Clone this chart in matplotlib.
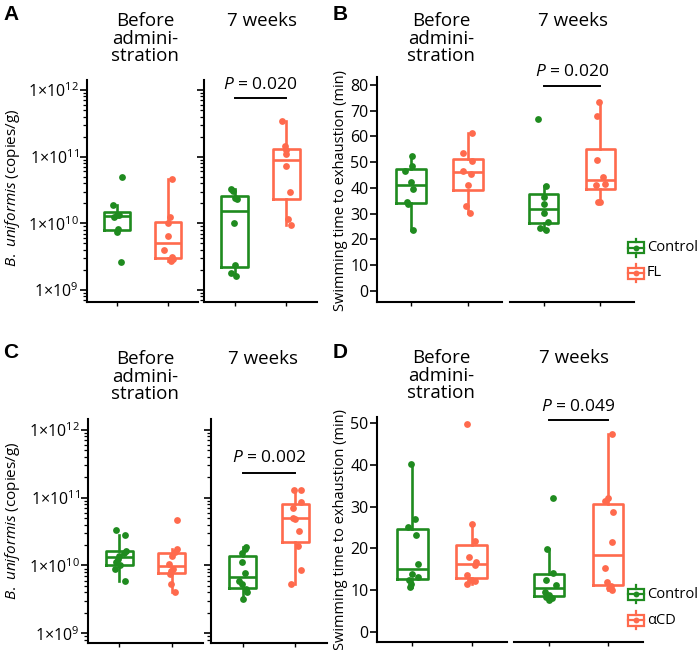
import matplotlib
matplotlib.use("Agg")
import matplotlib.pyplot as plt
import numpy as np
from matplotlib import cbook
from matplotlib.patches import Rectangle
from matplotlib.ticker import (FixedLocator, LogLocator, FuncFormatter,
                               NullFormatter, MultipleLocator)

plt.rcParams['font.family'] = ['Open Sans', 'DejaVu Sans']
plt.rcParams['mathtext.fontset'] = 'custom'
plt.rcParams['mathtext.rm'] = 'Open Sans'
plt.rcParams['mathtext.it'] = 'Open Sans:italic'
plt.rcParams['mathtext.bf'] = 'Open Sans:bold'

GREEN = '#1f8b1f'
ORANGE = '#ff6a4d'

# ---- data ----
# A: B. uniformis copies/g, Control vs FL
a_before_ctrl = [5.0e10, 1.86e10, 1.35e10, 1.32e10, 1.26e10, 8.3e9, 7.4e9, 2.6e9]
a_before_fl = [4.7e10, 1.26e10, 1.0e10, 6.5e9, 4.0e9, 3.1e9, 2.9e9, 2.7e9]
a_7w_ctrl = [3.28e10, 3.03e10, 2.42e10, 2.33e10, 1.0e10, 2.4e9, 1.83e9, 1.63e9]
a_7w_fl = [3.47e11, 1.44e11, 1.26e11, 1.08e11, 7.3e10, 2.95e10, 1.17e10, 9.4e9]

# B: swimming time (min), Control vs FL
b_before_ctrl = [52.4, 48.7, 46.7, 42.5, 39.6, 34.4, 33.8, 23.7]
b_before_fl = [61.5, 53.7, 50.6, 46.7, 45.4, 41.2, 33.0, 30.2]
b_7w_ctrl = [66.8, 40.9, 36.6, 33.8, 30.2, 26.9, 24.6, 23.7]
b_7w_fl = [73.5, 68.0, 50.9, 44.4, 41.6, 41.2, 34.7, 34.5]

# C: B. uniformis copies/g, Control vs aCD
c_before_ctrl = [3.29e10, 2.77e10, 1.66e10, 1.51e10, 1.38e10, 1.26e10, 1.12e10, 1.0e10, 8.9e9, 5.9e9]
c_before_cd = [4.73e10, 1.76e10, 1.57e10, 1.36e10, 1.05e10, 8.9e9, 8.4e9, 7.4e9, 5.25e9, 4.04e9]
c_7w_ctrl = [1.9e10, 1.76e10, 1.51e10, 1.12e10, 7.7e9, 6.0e9, 5.4e9, 4.5e9, 4.04e9, 3.2e9]
c_7w_cd = [1.3e11, 1.3e11, 8.6e10, 7.1e10, 5.0e10, 4.9e10, 3.2e10, 1.95e10, 8.6e9, 5.25e9]

# D: swimming time (min), Control vs aCD
d_before_ctrl = [40.2, 27.0, 25.2, 23.2, 16.2, 13.8, 13.2, 12.4, 11.4, 10.8]
d_before_cd = [49.8, 25.8, 21.8, 18.0, 16.6, 16.0, 13.6, 12.5, 12.2, 11.4]
d_7w_ctrl = [32.0, 19.8, 14.2, 12.4, 11.2, 9.6, 8.8, 8.4, 8.2, 7.6]
d_7w_cd = [47.4, 32.0, 31.4, 28.6, 21.4, 15.2, 12.0, 11.0, 10.4, 10.0]

p_values = ['0.020', '0.020', '0.002', '0.049']
legend_b = ['Control', 'FL']
legend_d = ['Control', 'αCD']
facet_titles = ['Before\nadmini-\nstration', '7 weeks']

# horizontal jitter of the dots (category units)
jit = {
    'a0c': [0.09, -0.08, 0.03, 0.0, -0.07, 0.02, 0.0, 0.07],
    'a0t': [0.09, 0.05, 0.0, 0.01, -0.08, 0.09, 0.11, 0.07],
    'a1c': [-0.07, -0.03, 0.0, 0.05, -0.02, 0.0, -0.08, 0.03],
    'a1t': [-0.09, -0.02, 0.0, 0.0, -0.01, 0.07, 0.03, 0.1],
    'b0c': [0.01, 0.01, -0.11, 0.0, 0.04, -0.07, -0.05, 0.04],
    'b0t': [0.08, -0.09, 0.08, -0.09, 0.06, 0.0, -0.04, 0.04],
    'b1c': [-0.1, 0.03, 0.01, 0.01, 0.0, 0.07, -0.07, 0.04],
    'b1t': [-0.02, -0.06, -0.06, 0.05, 0.08, -0.08, -0.04, -0.01],
    'c0c': [-0.06, 0.1, 0.12, 0.08, -0.01, -0.03, -0.06, 0.02, -0.09, 0.1],
    'c0t': [0.1, 0.11, 0.06, 0.01, -0.06, 0.03, -0.02, -0.04, -0.02, 0.06],
    'c1c': [0.07, 0.04, -0.01, -0.01, 0.04, -0.07, -0.02, 0.06, 0.09, 0.01],
    'c1t': [-0.03, 0.1, 0.1, -0.04, -0.04, -0.01, 0.07, 0.05, 0.1, -0.09],
    'd0c': [-0.03, 0.05, -0.07, 0.06, 0.1, -0.01, 0.1, -0.06, -0.03, -0.04],
    'd0t': [-0.08, 0.0, 0.06, -0.04, 0.08, 0.06, -0.07, -0.02, 0.06, -0.08],
    'd1c': [0.07, -0.03, 0.07, -0.06, 0.11, -0.07, 0.0, -0.06, 0.05, 0.0],
    'd1t': [0.07, 0.0, -0.04, 0.09, 0.07, -0.04, -0.01, 0.05, 0.02, 0.07],
}

W, H = 700, 650
fig = plt.figure(figsize=(7, 6.5), dpi=100)


def px_axes(x0, x1, y0, y1):
    return fig.add_axes([x0 / W, 1 - y1 / H, (x1 - x0) / W, (y1 - y0) / H])


def draw_box(ax, pos, vals, dx, color, log):
    v = np.asarray(vals, float)
    s = cbook.boxplot_stats(np.log10(v) if log else v, whis=1.5)[0]
    if log:
        for k in ('q1', 'med', 'q3', 'whislo', 'whishi'):
            s[k] = 10 ** s[k]
    props = dict(color=color, linewidth=1.9)
    ax.bxp([s], positions=[pos], widths=0.52, showfliers=False, showcaps=False,
           boxprops=props, whiskerprops=props, medianprops=props,
           manage_ticks=False)
    ax.scatter(pos + np.asarray(dx), v, s=24, color=color, zorder=3,
               linewidths=0, clip_on=False)


def style(ax, left_axis, left_labels, log, ylim):
    ax.spines[['top', 'right']].set_visible(False)
    for sp in ('left', 'bottom'):
        ax.spines[sp].set_linewidth(1.5)
    ax.set_xlim(0.4, 2.6)
    ax.set_xticks([1, 2])
    ax.set_xticklabels([])
    ax.tick_params(axis='x', length=3, width=1)
    if log:
        ax.set_yscale('log')
        ax.yaxis.set_major_locator(FixedLocator([1e9, 1e10, 1e11, 1e12]))
        ax.yaxis.set_minor_locator(LogLocator(subs=np.arange(2, 10)))
        ax.yaxis.set_minor_formatter(NullFormatter())
        ax.yaxis.set_major_formatter(
            FuncFormatter(lambda v, _: r'1×10$^{%d}$' % round(np.log10(v))))
        ax.set_ylim(10 ** ylim[0], 10 ** ylim[1])
    else:
        ax.yaxis.set_major_locator(MultipleLocator(10))
        ax.set_ylim(*ylim)
    ax.tick_params(axis='y', which='major', length=5, width=1.2, pad=1,
                   labelsize=11.5)
    ax.tick_params(axis='y', which='minor', length=3, width=0.9)
    if not left_labels:
        ax.tick_params(axis='y', which='both', labelleft=False)
    if not left_axis:
        ax.spines['left'].set_visible(False)
        ax.tick_params(axis='y', which='both', left=False, labelleft=False)


def bracket(ax, y_line, y_text, p):
    ax.plot([1, 2], [y_line, y_line], color='black', lw=1.4, clip_on=False)
    ax.text(1.5, y_text, '$P$ = ' + p, ha='center', va='center', fontsize=12.5,
            clip_on=False)


panels = [
    dict(lx=(87, 198), rx=(204, 317), y=(80, 302), log=True, ylim=(8.82, 12.15),
         data=[(a_before_ctrl, a_before_fl, 'a0'), (a_7w_ctrl, a_7w_fl, 'a1')],
         br=(10 ** 11.88, 10 ** 12.07), right_axis=True),
    dict(lx=(377, 502), rx=(510, 634), y=(77, 302), log=False, ylim=(-4.27, 83.1),
         data=[(b_before_ctrl, b_before_fl, 'b0'), (b_7w_ctrl, b_7w_fl, 'b1')],
         br=(79.6, 85.0), right_axis=False),
    dict(lx=(88, 203), rx=(211, 327), y=(419, 643), log=True, ylim=(8.857, 12.16),
         data=[(c_before_ctrl, c_before_cd, 'c0'), (c_7w_ctrl, c_7w_cd, 'c1')],
         br=(10 ** 11.36, 10 ** 11.585), right_axis=True),
    dict(lx=(377, 507), rx=(514, 643), y=(417, 642), log=False, ylim=(-2.47, 51.5),
         data=[(d_before_ctrl, d_before_cd, 'd0'), (d_7w_ctrl, d_7w_cd, 'd1')],
         br=(50.8, 53.9), right_axis=False),
]

for i, pn in enumerate(panels):
    y0, y1 = pn['y']
    axl = px_axes(*pn['lx'], y0, y1)
    axr = px_axes(*pn['rx'], y0, y1)
    for ax, (ctrl, trt, key) in zip((axl, axr), pn['data']):
        draw_box(ax, 1, ctrl, jit[key + 'c'], GREEN, pn['log'])
        draw_box(ax, 2, trt, jit[key + 't'], ORANGE, pn['log'])
    style(axl, True, True, pn['log'], pn['ylim'])
    style(axr, pn['right_axis'], False, pn['log'], pn['ylim'])
    bracket(axr, pn['br'][0], pn['br'][1], p_values[i])

# facet titles
for (xb, xw, yt) in [(145, 262, 12), (441, 573, 12), (145, 263, 350), (441, 574, 349)]:
    fig.text(xb / W, 1 - yt / H, facet_titles[0], ha='center', va='top',
             fontsize=13.5, linespacing=0.98)
    fig.text(xw / W, 1 - yt / H, facet_titles[1], ha='center', va='top',
             fontsize=13.5)

# y-axis labels
for (x, y) in [(13, 188), (13, 521)]:
    fig.text(x / W, 1 - y / H, r'$B.\ uniformis$ (copies/g)', rotation=90,
             ha='center', va='center', fontsize=11)
for (x, y) in [(341, 190), (341, 530)]:
    fig.text(x / W, 1 - y / H, 'Swimming time to exhaustion (min)', rotation=90,
             ha='center', va='center', fontsize=10.5)

# panel letters
for (lab, x, y) in [('A', 3, 5), ('B', 333, 5), ('C', 3, 343), ('D', 333, 343)]:
    fig.text(x / W, 1 - y / H, lab, ha='left', va='top', fontsize=15,
             fontweight='bold', family='Liberation Sans')

# legends drawn as small boxplot glyphs in pixel space
ov = fig.add_axes([0, 0, 1, 1])
ov.set_xlim(0, W)
ov.set_ylim(H, 0)
ov.axis('off')
for labels, ys in [(legend_b, (247.5, 273)), (legend_d, (594, 620))]:
    for lab, yc, col in zip(labels, ys, (GREEN, ORANGE)):
        ov.add_patch(Rectangle((628, yc - 5.5), 16, 11, fill=False, ec=col, lw=1.6))
        ov.plot([628, 644], [yc, yc], color=col, lw=1.6)
        ov.plot([636, 636], [yc - 9, yc - 5.5], color=col, lw=1.6)
        ov.plot([636, 636], [yc + 5.5, yc + 9], color=col, lw=1.6)
        ov.scatter([636], [yc], s=18, color=col, linewidths=0, zorder=3)
        ov.text(647, yc, lab, ha='left', va='center', fontsize=10.5)

fig.savefig('out.png', dpi=100)
